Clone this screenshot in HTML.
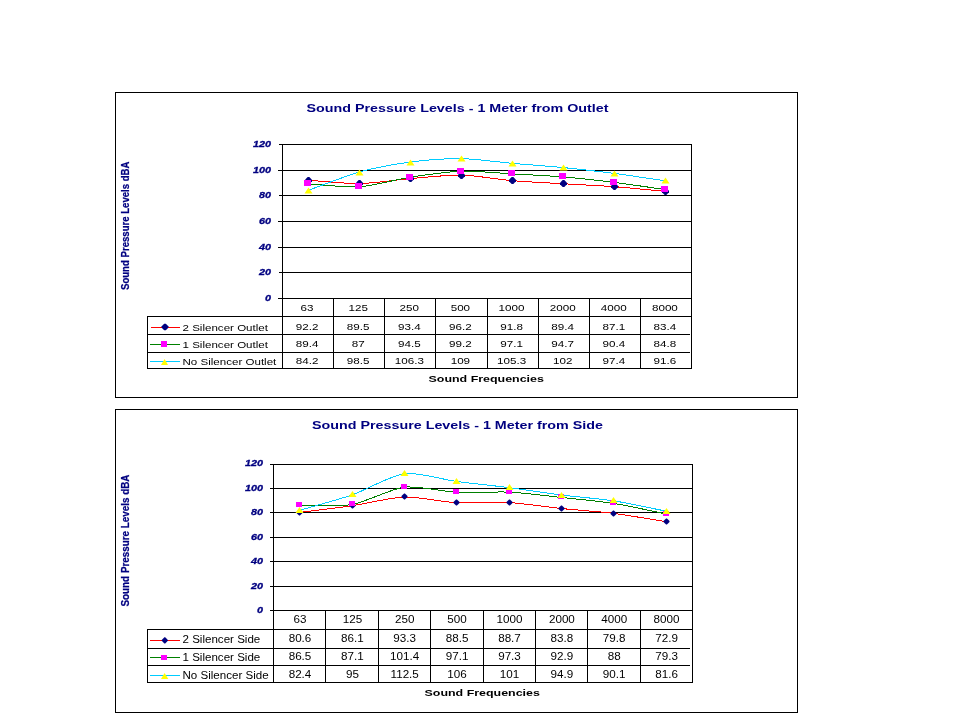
<!DOCTYPE html>
<html><head><meta charset="utf-8"><title>Sound Pressure Levels</title>
<style>
html,body{margin:0;padding:0;background:#fff;}
body{width:960px;height:720px;overflow:hidden;}
svg{display:block;will-change:transform;font-family:"Liberation Sans",sans-serif;}
</style></head><body>
<svg width="960" height="720" viewBox="0 0 960 720">
<rect width="960" height="720" fill="#fff"/>
<rect x="115" y="92" width="683" height="1" fill="#000"/>
<rect x="115" y="397" width="683" height="1" fill="#000"/>
<rect x="115" y="92" width="1" height="306" fill="#000"/>
<rect x="797" y="92" width="1" height="306" fill="#000"/>
<rect x="279" y="144" width="413" height="1" fill="#000"/>
<text x="271" y="146.5" text-anchor="end" font-size="9" font-weight="bold" font-style="italic" fill="#000080" textLength="18.02" lengthAdjust="spacingAndGlyphs" stroke="#000080" stroke-width="0.3">120</text>
<rect x="278" y="170" width="414" height="1" fill="#000"/>
<text x="271" y="172.5" text-anchor="end" font-size="9" font-weight="bold" font-style="italic" fill="#000080" textLength="18.02" lengthAdjust="spacingAndGlyphs" stroke="#000080" stroke-width="0.3">100</text>
<rect x="279" y="195" width="413" height="1" fill="#000"/>
<text x="271" y="197.5" text-anchor="end" font-size="9" font-weight="bold" font-style="italic" fill="#000080" textLength="12.01" lengthAdjust="spacingAndGlyphs" stroke="#000080" stroke-width="0.3">80</text>
<rect x="278" y="221" width="414" height="1" fill="#000"/>
<text x="271" y="223.5" text-anchor="end" font-size="9" font-weight="bold" font-style="italic" fill="#000080" textLength="12.01" lengthAdjust="spacingAndGlyphs" stroke="#000080" stroke-width="0.3">60</text>
<rect x="278" y="247" width="414" height="1" fill="#000"/>
<text x="271" y="249.5" text-anchor="end" font-size="9" font-weight="bold" font-style="italic" fill="#000080" textLength="12.01" lengthAdjust="spacingAndGlyphs" stroke="#000080" stroke-width="0.3">40</text>
<rect x="279" y="272" width="413" height="1" fill="#000"/>
<text x="271" y="274.5" text-anchor="end" font-size="9" font-weight="bold" font-style="italic" fill="#000080" textLength="12.01" lengthAdjust="spacingAndGlyphs" stroke="#000080" stroke-width="0.3">20</text>
<rect x="278" y="298" width="414" height="1" fill="#000"/>
<text x="271" y="300.5" text-anchor="end" font-size="9" font-weight="bold" font-style="italic" fill="#000080" textLength="6.01" lengthAdjust="spacingAndGlyphs" stroke="#000080" stroke-width="0.3">0</text>
<rect x="282" y="144" width="1" height="225" fill="#000"/>
<rect x="691" y="144" width="1" height="225" fill="#000"/>
<rect x="333" y="298" width="1" height="71" fill="#000"/>
<rect x="384" y="298" width="1" height="71" fill="#000"/>
<rect x="435" y="298" width="1" height="71" fill="#000"/>
<rect x="487" y="298" width="1" height="71" fill="#000"/>
<rect x="538" y="298" width="1" height="71" fill="#000"/>
<rect x="589" y="298" width="1" height="71" fill="#000"/>
<rect x="640" y="298" width="1" height="71" fill="#000"/>
<rect x="147" y="316" width="545" height="1" fill="#000"/>
<rect x="147" y="334" width="543" height="1" fill="#000"/>
<rect x="147" y="352" width="543" height="1" fill="#000"/>
<rect x="147" y="368" width="545" height="1" fill="#000"/>
<rect x="147" y="316" width="1" height="53" fill="#000"/>
<text x="307.1" y="311" text-anchor="middle" font-size="9" font-weight="normal" font-style="normal" fill="#000" textLength="12.96" lengthAdjust="spacingAndGlyphs">63</text>
<text x="307.1" y="330" text-anchor="middle" font-size="9" font-weight="normal" font-style="normal" fill="#000" textLength="22.68" lengthAdjust="spacingAndGlyphs">92.2</text>
<text x="307.1" y="347" text-anchor="middle" font-size="9" font-weight="normal" font-style="normal" fill="#000" textLength="22.68" lengthAdjust="spacingAndGlyphs">89.4</text>
<text x="307.1" y="364" text-anchor="middle" font-size="9" font-weight="normal" font-style="normal" fill="#000" textLength="22.68" lengthAdjust="spacingAndGlyphs">84.2</text>
<text x="358.2" y="311" text-anchor="middle" font-size="9" font-weight="normal" font-style="normal" fill="#000" textLength="19.44" lengthAdjust="spacingAndGlyphs">125</text>
<text x="358.2" y="330" text-anchor="middle" font-size="9" font-weight="normal" font-style="normal" fill="#000" textLength="22.68" lengthAdjust="spacingAndGlyphs">89.5</text>
<text x="358.2" y="347" text-anchor="middle" font-size="9" font-weight="normal" font-style="normal" fill="#000" textLength="12.96" lengthAdjust="spacingAndGlyphs">87</text>
<text x="358.2" y="364" text-anchor="middle" font-size="9" font-weight="normal" font-style="normal" fill="#000" textLength="22.68" lengthAdjust="spacingAndGlyphs">98.5</text>
<text x="409.3" y="311" text-anchor="middle" font-size="9" font-weight="normal" font-style="normal" fill="#000" textLength="19.44" lengthAdjust="spacingAndGlyphs">250</text>
<text x="409.3" y="330" text-anchor="middle" font-size="9" font-weight="normal" font-style="normal" fill="#000" textLength="22.68" lengthAdjust="spacingAndGlyphs">93.4</text>
<text x="409.3" y="347" text-anchor="middle" font-size="9" font-weight="normal" font-style="normal" fill="#000" textLength="22.68" lengthAdjust="spacingAndGlyphs">94.5</text>
<text x="409.3" y="364" text-anchor="middle" font-size="9" font-weight="normal" font-style="normal" fill="#000" textLength="29.16" lengthAdjust="spacingAndGlyphs">106.3</text>
<text x="460.4" y="311" text-anchor="middle" font-size="9" font-weight="normal" font-style="normal" fill="#000" textLength="19.44" lengthAdjust="spacingAndGlyphs">500</text>
<text x="460.4" y="330" text-anchor="middle" font-size="9" font-weight="normal" font-style="normal" fill="#000" textLength="22.68" lengthAdjust="spacingAndGlyphs">96.2</text>
<text x="460.4" y="347" text-anchor="middle" font-size="9" font-weight="normal" font-style="normal" fill="#000" textLength="22.68" lengthAdjust="spacingAndGlyphs">99.2</text>
<text x="460.4" y="364" text-anchor="middle" font-size="9" font-weight="normal" font-style="normal" fill="#000" textLength="19.44" lengthAdjust="spacingAndGlyphs">109</text>
<text x="511.6" y="311" text-anchor="middle" font-size="9" font-weight="normal" font-style="normal" fill="#000" textLength="25.93" lengthAdjust="spacingAndGlyphs">1000</text>
<text x="511.6" y="330" text-anchor="middle" font-size="9" font-weight="normal" font-style="normal" fill="#000" textLength="22.68" lengthAdjust="spacingAndGlyphs">91.8</text>
<text x="511.6" y="347" text-anchor="middle" font-size="9" font-weight="normal" font-style="normal" fill="#000" textLength="22.68" lengthAdjust="spacingAndGlyphs">97.1</text>
<text x="511.6" y="364" text-anchor="middle" font-size="9" font-weight="normal" font-style="normal" fill="#000" textLength="29.16" lengthAdjust="spacingAndGlyphs">105.3</text>
<text x="562.7" y="311" text-anchor="middle" font-size="9" font-weight="normal" font-style="normal" fill="#000" textLength="25.93" lengthAdjust="spacingAndGlyphs">2000</text>
<text x="562.7" y="330" text-anchor="middle" font-size="9" font-weight="normal" font-style="normal" fill="#000" textLength="22.68" lengthAdjust="spacingAndGlyphs">89.4</text>
<text x="562.7" y="347" text-anchor="middle" font-size="9" font-weight="normal" font-style="normal" fill="#000" textLength="22.68" lengthAdjust="spacingAndGlyphs">94.7</text>
<text x="562.7" y="364" text-anchor="middle" font-size="9" font-weight="normal" font-style="normal" fill="#000" textLength="19.44" lengthAdjust="spacingAndGlyphs">102</text>
<text x="613.8" y="311" text-anchor="middle" font-size="9" font-weight="normal" font-style="normal" fill="#000" textLength="25.93" lengthAdjust="spacingAndGlyphs">4000</text>
<text x="613.8" y="330" text-anchor="middle" font-size="9" font-weight="normal" font-style="normal" fill="#000" textLength="22.68" lengthAdjust="spacingAndGlyphs">87.1</text>
<text x="613.8" y="347" text-anchor="middle" font-size="9" font-weight="normal" font-style="normal" fill="#000" textLength="22.68" lengthAdjust="spacingAndGlyphs">90.4</text>
<text x="613.8" y="364" text-anchor="middle" font-size="9" font-weight="normal" font-style="normal" fill="#000" textLength="22.68" lengthAdjust="spacingAndGlyphs">97.4</text>
<text x="664.9" y="311" text-anchor="middle" font-size="9" font-weight="normal" font-style="normal" fill="#000" textLength="25.93" lengthAdjust="spacingAndGlyphs">8000</text>
<text x="664.9" y="330" text-anchor="middle" font-size="9" font-weight="normal" font-style="normal" fill="#000" textLength="22.68" lengthAdjust="spacingAndGlyphs">83.4</text>
<text x="664.9" y="347" text-anchor="middle" font-size="9" font-weight="normal" font-style="normal" fill="#000" textLength="22.68" lengthAdjust="spacingAndGlyphs">84.8</text>
<text x="664.9" y="364" text-anchor="middle" font-size="9" font-weight="normal" font-style="normal" fill="#000" textLength="22.68" lengthAdjust="spacingAndGlyphs">91.6</text>
<rect x="151" y="327" width="29" height="1" fill="#FF0000"/>
<path d="M164.2,323.7 L165.8,323.7 L168.3,326.2 L168.3,327.8 L165.8,330.3 L164.2,330.3 L161.7,327.8 L161.7,326.2Z" fill="#000080"/>
<text x="182.5" y="331" text-anchor="start" font-size="9" font-weight="normal" font-style="normal" fill="#000" textLength="85.49" lengthAdjust="spacingAndGlyphs">2 Silencer Outlet</text>
<rect x="150" y="344" width="30" height="1" fill="#008000"/>
<rect x="161" y="341" width="6" height="6" fill="#FF00FF"/>
<text x="182.5" y="347.5" text-anchor="start" font-size="9" font-weight="normal" font-style="normal" fill="#000" textLength="85.49" lengthAdjust="spacingAndGlyphs">1 Silencer Outlet</text>
<rect x="150" y="361" width="30" height="1" fill="#00CCFF"/>
<path d="M164.6,359 L168,365 L161,365Z" fill="#FFFF00"/>
<text x="182.5" y="364.5" text-anchor="start" font-size="9" font-weight="normal" font-style="normal" fill="#000" textLength="93.84" lengthAdjust="spacingAndGlyphs">No Silencer Outlet</text>
<g shape-rendering="crispEdges" fill="none" stroke-width="1">
<path d="M307.56,179.68 C313.95,180.11 345.91,183.33 358.69,183.14 C371.47,182.95 397.03,179.21 409.81,178.14 C422.59,177.06 448.16,174.29 460.94,174.54 C473.72,174.80 499.28,179.10 512.06,180.19 C524.84,181.28 550.41,182.52 563.19,183.27 C575.97,184.02 601.53,185.26 614.31,186.22 C627.09,187.18 659.05,190.38 665.44,190.97" stroke="#FF0000" transform="translate(0.5,0.5)"/>
<path d="M307.56,183.27 C313.95,183.65 345.91,187.17 358.69,186.35 C371.47,185.53 397.03,178.68 409.81,176.72 C422.59,174.77 448.16,171.11 460.94,170.69 C473.72,170.28 499.28,172.67 512.06,173.39 C524.84,174.11 550.41,175.39 563.19,176.47 C575.97,177.54 601.53,180.40 614.31,181.99 C627.09,183.57 659.05,188.28 665.44,189.17" stroke="#008000" transform="translate(0.5,0.5)"/>
<path d="M307.56,189.94 C313.95,187.65 345.91,175.14 358.69,171.59 C371.47,168.05 397.03,163.27 409.81,161.58 C422.59,159.90 448.16,157.96 460.94,158.12 C473.72,158.28 499.28,161.74 512.06,162.87 C524.84,163.99 550.41,165.83 563.19,167.10 C575.97,168.37 601.53,171.34 614.31,173.00 C627.09,174.67 659.05,179.52 665.44,180.45" stroke="#00CCFF" transform="translate(0.5,0.5)"/>
</g>
<path d="M304.5,179.2 L307.2,176.5 L308.8,176.5 L311.5,179.2 L311.5,180.8 L308.8,183.5 L307.2,183.5 L304.5,180.8Z" fill="#000080" transform="translate(0.5,0.5)"/>
<path d="M355.5,182.2 L358.2,179.5 L359.8,179.5 L362.5,182.2 L362.5,183.8 L359.8,186.5 L358.2,186.5 L355.5,183.8Z" fill="#000080" transform="translate(0.5,0.5)"/>
<path d="M406.5,177.2 L409.2,174.5 L410.8,174.5 L413.5,177.2 L413.5,178.8 L410.8,181.5 L409.2,181.5 L406.5,178.8Z" fill="#000080" transform="translate(0.5,0.5)"/>
<path d="M457.5,174.2 L460.2,171.5 L461.8,171.5 L464.5,174.2 L464.5,175.8 L461.8,178.5 L460.2,178.5 L457.5,175.8Z" fill="#000080" transform="translate(0.5,0.5)"/>
<path d="M508.5,179.2 L511.2,176.5 L512.8,176.5 L515.5,179.2 L515.5,180.8 L512.8,183.5 L511.2,183.5 L508.5,180.8Z" fill="#000080" transform="translate(0.5,0.5)"/>
<path d="M559.5,182.2 L562.2,179.5 L563.8,179.5 L566.5,182.2 L566.5,183.8 L563.8,186.5 L562.2,186.5 L559.5,183.8Z" fill="#000080" transform="translate(0.5,0.5)"/>
<path d="M610.5,185.2 L613.2,182.5 L614.8,182.5 L617.5,185.2 L617.5,186.8 L614.8,189.5 L613.2,189.5 L610.5,186.8Z" fill="#000080" transform="translate(0.5,0.5)"/>
<path d="M661.5,190.2 L664.2,187.5 L665.8,187.5 L668.5,190.2 L668.5,191.8 L665.8,194.5 L664.2,194.5 L661.5,191.8Z" fill="#000080" transform="translate(0.5,0.5)"/>
<rect x="304" y="180" width="7" height="6" fill="#FF00FF"/>
<rect x="355" y="183" width="7" height="6" fill="#FF00FF"/>
<rect x="406" y="174" width="7" height="6" fill="#FF00FF"/>
<rect x="457" y="168" width="7" height="6" fill="#FF00FF"/>
<rect x="508" y="170" width="7" height="6" fill="#FF00FF"/>
<rect x="559" y="173" width="7" height="6" fill="#FF00FF"/>
<rect x="610" y="179" width="7" height="6" fill="#FF00FF"/>
<rect x="661" y="186" width="7" height="6" fill="#FF00FF"/>
<path d="M308.5,187.5 L312.5,193.5 L304.5,193.5Z" fill="#FFFF00"/>
<path d="M359.5,169.5 L363.5,175.5 L355.5,175.5Z" fill="#FFFF00"/>
<path d="M410.5,159.5 L414.5,165.5 L406.5,165.5Z" fill="#FFFF00"/>
<path d="M461.5,155.5 L465.5,161.5 L457.5,161.5Z" fill="#FFFF00"/>
<path d="M512.5,160.5 L516.5,166.5 L508.5,166.5Z" fill="#FFFF00"/>
<path d="M563.5,164.5 L567.5,170.5 L559.5,170.5Z" fill="#FFFF00"/>
<path d="M614.5,170.5 L618.5,176.5 L610.5,176.5Z" fill="#FFFF00"/>
<path d="M665.5,177.5 L669.5,183.5 L661.5,183.5Z" fill="#FFFF00"/>
<text x="306.5" y="112" text-anchor="start" font-size="11" font-weight="bold" font-style="normal" fill="#000080" textLength="302.04" lengthAdjust="spacingAndGlyphs">Sound Pressure Levels - 1 Meter from Outlet</text>
<text x="486.2" y="382" text-anchor="middle" font-size="9" font-weight="bold" font-style="normal" fill="#000" textLength="115.24" lengthAdjust="spacingAndGlyphs">Sound Frequencies</text>
<text x="128.7" y="290" transform="rotate(-90 128.7 290)" font-size="10" font-weight="bold" fill="#000080" stroke="#000080" stroke-width="0.25" textLength="128.5" lengthAdjust="spacingAndGlyphs">Sound Pressure Levels dBA</text>
<rect x="115" y="409" width="683" height="1" fill="#000"/>
<rect x="115" y="712" width="683" height="1" fill="#000"/>
<rect x="115" y="409" width="1" height="304" fill="#000"/>
<rect x="797" y="409" width="1" height="304" fill="#000"/>
<rect x="270" y="464" width="423" height="1" fill="#000"/>
<text x="263" y="465.5" text-anchor="end" font-size="9" font-weight="bold" font-style="italic" fill="#000080" textLength="18.02" lengthAdjust="spacingAndGlyphs" stroke="#000080" stroke-width="0.3">120</text>
<rect x="270" y="488" width="423" height="1" fill="#000"/>
<text x="263" y="490.5" text-anchor="end" font-size="9" font-weight="bold" font-style="italic" fill="#000080" textLength="18.02" lengthAdjust="spacingAndGlyphs" stroke="#000080" stroke-width="0.3">100</text>
<rect x="270" y="512" width="423" height="1" fill="#000"/>
<text x="263" y="514.5" text-anchor="end" font-size="9" font-weight="bold" font-style="italic" fill="#000080" textLength="12.01" lengthAdjust="spacingAndGlyphs" stroke="#000080" stroke-width="0.3">80</text>
<rect x="270" y="537" width="423" height="1" fill="#000"/>
<text x="263" y="539.5" text-anchor="end" font-size="9" font-weight="bold" font-style="italic" fill="#000080" textLength="12.01" lengthAdjust="spacingAndGlyphs" stroke="#000080" stroke-width="0.3">60</text>
<rect x="270" y="561" width="423" height="1" fill="#000"/>
<text x="263" y="563.5" text-anchor="end" font-size="9" font-weight="bold" font-style="italic" fill="#000080" textLength="12.01" lengthAdjust="spacingAndGlyphs" stroke="#000080" stroke-width="0.3">40</text>
<rect x="270" y="586" width="423" height="1" fill="#000"/>
<text x="263" y="588.5" text-anchor="end" font-size="9" font-weight="bold" font-style="italic" fill="#000080" textLength="12.01" lengthAdjust="spacingAndGlyphs" stroke="#000080" stroke-width="0.3">20</text>
<rect x="270" y="610" width="423" height="1" fill="#000"/>
<text x="263" y="612.5" text-anchor="end" font-size="9" font-weight="bold" font-style="italic" fill="#000080" textLength="6.01" lengthAdjust="spacingAndGlyphs" stroke="#000080" stroke-width="0.3">0</text>
<rect x="273" y="464" width="1" height="219" fill="#000"/>
<rect x="692" y="464" width="1" height="219" fill="#000"/>
<rect x="325" y="610" width="1" height="73" fill="#000"/>
<rect x="378" y="610" width="1" height="73" fill="#000"/>
<rect x="430" y="610" width="1" height="73" fill="#000"/>
<rect x="483" y="610" width="1" height="73" fill="#000"/>
<rect x="535" y="610" width="1" height="73" fill="#000"/>
<rect x="587" y="610" width="1" height="73" fill="#000"/>
<rect x="640" y="610" width="1" height="73" fill="#000"/>
<rect x="147" y="629" width="546" height="1" fill="#000"/>
<rect x="147" y="648" width="543" height="1" fill="#000"/>
<rect x="147" y="665" width="543" height="1" fill="#000"/>
<rect x="147" y="682" width="546" height="1" fill="#000"/>
<rect x="147" y="629" width="1" height="54" fill="#000"/>
<text x="300.0" y="623" text-anchor="middle" font-size="10" font-weight="normal" font-style="normal" fill="#000" textLength="12.96" lengthAdjust="spacingAndGlyphs">63</text>
<text x="300.0" y="642" text-anchor="middle" font-size="10" font-weight="normal" font-style="normal" fill="#000" textLength="22.68" lengthAdjust="spacingAndGlyphs">80.6</text>
<text x="300.0" y="659.5" text-anchor="middle" font-size="10" font-weight="normal" font-style="normal" fill="#000" textLength="22.68" lengthAdjust="spacingAndGlyphs">86.5</text>
<text x="300.0" y="677.5" text-anchor="middle" font-size="10" font-weight="normal" font-style="normal" fill="#000" textLength="22.68" lengthAdjust="spacingAndGlyphs">82.4</text>
<text x="352.4" y="623" text-anchor="middle" font-size="10" font-weight="normal" font-style="normal" fill="#000" textLength="19.44" lengthAdjust="spacingAndGlyphs">125</text>
<text x="352.4" y="642" text-anchor="middle" font-size="10" font-weight="normal" font-style="normal" fill="#000" textLength="22.68" lengthAdjust="spacingAndGlyphs">86.1</text>
<text x="352.4" y="659.5" text-anchor="middle" font-size="10" font-weight="normal" font-style="normal" fill="#000" textLength="22.68" lengthAdjust="spacingAndGlyphs">87.1</text>
<text x="352.4" y="677.5" text-anchor="middle" font-size="10" font-weight="normal" font-style="normal" fill="#000" textLength="12.96" lengthAdjust="spacingAndGlyphs">95</text>
<text x="404.7" y="623" text-anchor="middle" font-size="10" font-weight="normal" font-style="normal" fill="#000" textLength="19.44" lengthAdjust="spacingAndGlyphs">250</text>
<text x="404.7" y="642" text-anchor="middle" font-size="10" font-weight="normal" font-style="normal" fill="#000" textLength="22.68" lengthAdjust="spacingAndGlyphs">93.3</text>
<text x="404.7" y="659.5" text-anchor="middle" font-size="10" font-weight="normal" font-style="normal" fill="#000" textLength="29.16" lengthAdjust="spacingAndGlyphs">101.4</text>
<text x="404.7" y="677.5" text-anchor="middle" font-size="10" font-weight="normal" font-style="normal" fill="#000" textLength="28.30" lengthAdjust="spacingAndGlyphs">112.5</text>
<text x="457.1" y="623" text-anchor="middle" font-size="10" font-weight="normal" font-style="normal" fill="#000" textLength="19.44" lengthAdjust="spacingAndGlyphs">500</text>
<text x="457.1" y="642" text-anchor="middle" font-size="10" font-weight="normal" font-style="normal" fill="#000" textLength="22.68" lengthAdjust="spacingAndGlyphs">88.5</text>
<text x="457.1" y="659.5" text-anchor="middle" font-size="10" font-weight="normal" font-style="normal" fill="#000" textLength="22.68" lengthAdjust="spacingAndGlyphs">97.1</text>
<text x="457.1" y="677.5" text-anchor="middle" font-size="10" font-weight="normal" font-style="normal" fill="#000" textLength="19.44" lengthAdjust="spacingAndGlyphs">106</text>
<text x="509.5" y="623" text-anchor="middle" font-size="10" font-weight="normal" font-style="normal" fill="#000" textLength="25.93" lengthAdjust="spacingAndGlyphs">1000</text>
<text x="509.5" y="642" text-anchor="middle" font-size="10" font-weight="normal" font-style="normal" fill="#000" textLength="22.68" lengthAdjust="spacingAndGlyphs">88.7</text>
<text x="509.5" y="659.5" text-anchor="middle" font-size="10" font-weight="normal" font-style="normal" fill="#000" textLength="22.68" lengthAdjust="spacingAndGlyphs">97.3</text>
<text x="509.5" y="677.5" text-anchor="middle" font-size="10" font-weight="normal" font-style="normal" fill="#000" textLength="19.44" lengthAdjust="spacingAndGlyphs">101</text>
<text x="561.9" y="623" text-anchor="middle" font-size="10" font-weight="normal" font-style="normal" fill="#000" textLength="25.93" lengthAdjust="spacingAndGlyphs">2000</text>
<text x="561.9" y="642" text-anchor="middle" font-size="10" font-weight="normal" font-style="normal" fill="#000" textLength="22.68" lengthAdjust="spacingAndGlyphs">83.8</text>
<text x="561.9" y="659.5" text-anchor="middle" font-size="10" font-weight="normal" font-style="normal" fill="#000" textLength="22.68" lengthAdjust="spacingAndGlyphs">92.9</text>
<text x="561.9" y="677.5" text-anchor="middle" font-size="10" font-weight="normal" font-style="normal" fill="#000" textLength="22.68" lengthAdjust="spacingAndGlyphs">94.9</text>
<text x="614.2" y="623" text-anchor="middle" font-size="10" font-weight="normal" font-style="normal" fill="#000" textLength="25.93" lengthAdjust="spacingAndGlyphs">4000</text>
<text x="614.2" y="642" text-anchor="middle" font-size="10" font-weight="normal" font-style="normal" fill="#000" textLength="22.68" lengthAdjust="spacingAndGlyphs">79.8</text>
<text x="614.2" y="659.5" text-anchor="middle" font-size="10" font-weight="normal" font-style="normal" fill="#000" textLength="12.96" lengthAdjust="spacingAndGlyphs">88</text>
<text x="614.2" y="677.5" text-anchor="middle" font-size="10" font-weight="normal" font-style="normal" fill="#000" textLength="22.68" lengthAdjust="spacingAndGlyphs">90.1</text>
<text x="666.6" y="623" text-anchor="middle" font-size="10" font-weight="normal" font-style="normal" fill="#000" textLength="25.93" lengthAdjust="spacingAndGlyphs">8000</text>
<text x="666.6" y="642" text-anchor="middle" font-size="10" font-weight="normal" font-style="normal" fill="#000" textLength="22.68" lengthAdjust="spacingAndGlyphs">72.9</text>
<text x="666.6" y="659.5" text-anchor="middle" font-size="10" font-weight="normal" font-style="normal" fill="#000" textLength="22.68" lengthAdjust="spacingAndGlyphs">79.3</text>
<text x="666.6" y="677.5" text-anchor="middle" font-size="10" font-weight="normal" font-style="normal" fill="#000" textLength="22.68" lengthAdjust="spacingAndGlyphs">81.6</text>
<rect x="150" y="640" width="30" height="1" fill="#FF0000"/>
<path d="M164.4,637.3 L165.2,637.3 L167.9,640 L167.9,640.8 L165.2,643.5 L164.4,643.5 L161.7,640.8 L161.7,640Z" fill="#000080"/>
<text x="182.5" y="643" text-anchor="start" font-size="10" font-weight="normal" font-style="normal" fill="#000" textLength="77.78" lengthAdjust="spacingAndGlyphs">2 Silencer Side</text>
<rect x="150" y="657" width="30" height="1" fill="#008000"/>
<rect x="161" y="655" width="6" height="5" fill="#FF00FF"/>
<text x="182.5" y="660.5" text-anchor="start" font-size="10" font-weight="normal" font-style="normal" fill="#000" textLength="77.78" lengthAdjust="spacingAndGlyphs">1 Silencer Side</text>
<rect x="150" y="675" width="30" height="1" fill="#00CCFF"/>
<path d="M164.6,673 L168.3,679 L161,679Z" fill="#FFFF00"/>
<text x="182.5" y="678.5" text-anchor="start" font-size="10" font-weight="normal" font-style="normal" fill="#000" textLength="86.14" lengthAdjust="spacingAndGlyphs">No Silencer Side</text>
<g shape-rendering="crispEdges" fill="none" stroke-width="1">
<path d="M299.19,511.94 C305.73,511.10 338.47,507.18 351.56,505.25 C364.66,503.31 390.84,496.85 403.94,496.49 C417.03,496.12 443.22,501.63 456.31,502.32 C469.41,503.02 495.59,501.37 508.69,502.08 C521.78,502.80 547.97,506.69 561.06,508.04 C574.16,509.40 600.34,511.25 613.44,512.91 C626.53,514.57 659.27,520.26 665.81,521.30" stroke="#FF0000" transform="translate(0.5,0.5)"/>
<path d="M299.19,504.76 C305.73,504.67 338.47,506.29 351.56,504.03 C364.66,501.76 390.84,488.15 403.94,486.63 C417.03,485.11 443.22,491.24 456.31,491.86 C469.41,492.49 495.59,490.98 508.69,491.62 C521.78,492.26 547.97,495.56 561.06,496.97 C574.16,498.39 600.34,500.87 613.44,502.93 C626.53,505.00 659.27,512.20 665.81,513.52" stroke="#008000" transform="translate(0.5,0.5)"/>
<path d="M299.19,509.75 C305.73,507.83 338.47,498.99 351.56,494.42 C364.66,489.84 390.84,474.80 403.94,473.12 C417.03,471.45 443.22,479.28 456.31,481.03 C469.41,482.78 495.59,485.43 508.69,487.12 C521.78,488.80 547.97,492.88 561.06,494.54 C574.16,496.20 600.34,498.36 613.44,500.38 C626.53,502.40 659.27,509.43 665.81,510.72" stroke="#00CCFF" transform="translate(0.5,0.5)"/>
</g>
<path d="M296.0,511.55 L298.55,509.0 L299.45,509.0 L302.0,511.55 L302.0,512.45 L299.45,515.0 L298.55,515.0 L296.0,512.45Z" fill="#000080" transform="translate(0.5,0.5)"/>
<path d="M349.0,504.55 L351.55,502.0 L352.45,502.0 L355.0,504.55 L355.0,505.45 L352.45,508.0 L351.55,508.0 L349.0,505.45Z" fill="#000080" transform="translate(0.5,0.5)"/>
<path d="M401.0,495.55 L403.55,493.0 L404.45,493.0 L407.0,495.55 L407.0,496.45 L404.45,499.0 L403.55,499.0 L401.0,496.45Z" fill="#000080" transform="translate(0.5,0.5)"/>
<path d="M453.0,501.55 L455.55,499.0 L456.45,499.0 L459.0,501.55 L459.0,502.45 L456.45,505.0 L455.55,505.0 L453.0,502.45Z" fill="#000080" transform="translate(0.5,0.5)"/>
<path d="M506.0,501.55 L508.55,499.0 L509.45,499.0 L512.0,501.55 L512.0,502.45 L509.45,505.0 L508.55,505.0 L506.0,502.45Z" fill="#000080" transform="translate(0.5,0.5)"/>
<path d="M558.0,507.55 L560.55,505.0 L561.45,505.0 L564.0,507.55 L564.0,508.45 L561.45,511.0 L560.55,511.0 L558.0,508.45Z" fill="#000080" transform="translate(0.5,0.5)"/>
<path d="M610.0,512.55 L612.55,510.0 L613.45,510.0 L616.0,512.55 L616.0,513.45 L613.45,516.0 L612.55,516.0 L610.0,513.45Z" fill="#000080" transform="translate(0.5,0.5)"/>
<path d="M663.0,520.55 L665.55,518.0 L666.45,518.0 L669.0,520.55 L669.0,521.45 L666.45,524.0 L665.55,524.0 L663.0,521.45Z" fill="#000080" transform="translate(0.5,0.5)"/>
<rect x="296" y="502" width="6" height="5" fill="#FF00FF"/>
<rect x="349" y="501" width="6" height="5" fill="#FF00FF"/>
<rect x="401" y="484" width="6" height="5" fill="#FF00FF"/>
<rect x="453" y="489" width="6" height="5" fill="#FF00FF"/>
<rect x="506" y="489" width="6" height="5" fill="#FF00FF"/>
<rect x="558" y="494" width="6" height="5" fill="#FF00FF"/>
<rect x="610" y="500" width="6" height="5" fill="#FF00FF"/>
<rect x="663" y="511" width="6" height="5" fill="#FF00FF"/>
<path d="M299.5,507 L303.5,513 L295.5,513Z" fill="#FFFF00"/>
<path d="M352.5,491 L356.5,497 L348.5,497Z" fill="#FFFF00"/>
<path d="M404.5,470 L408.5,476 L400.5,476Z" fill="#FFFF00"/>
<path d="M456.5,478 L460.5,484 L452.5,484Z" fill="#FFFF00"/>
<path d="M509.5,484 L513.5,490 L505.5,490Z" fill="#FFFF00"/>
<path d="M561.5,492 L565.5,498 L557.5,498Z" fill="#FFFF00"/>
<path d="M613.5,497 L617.5,503 L609.5,503Z" fill="#FFFF00"/>
<path d="M666.5,508 L670.5,514 L662.5,514Z" fill="#FFFF00"/>
<text x="312" y="429.2" text-anchor="start" font-size="11" font-weight="bold" font-style="normal" fill="#000080" textLength="290.93" lengthAdjust="spacingAndGlyphs">Sound Pressure Levels - 1 Meter from Side</text>
<text x="482.2" y="696" text-anchor="middle" font-size="9.5" font-weight="bold" font-style="normal" fill="#000" textLength="115.24" lengthAdjust="spacingAndGlyphs">Sound Frequencies</text>
<text x="128.7" y="606.5" transform="rotate(-90 128.7 606.5)" font-size="10" font-weight="bold" fill="#000080" stroke="#000080" stroke-width="0.25" textLength="132.0" lengthAdjust="spacingAndGlyphs">Sound Pressure Levels dBA</text>
</svg>
</body></html>
